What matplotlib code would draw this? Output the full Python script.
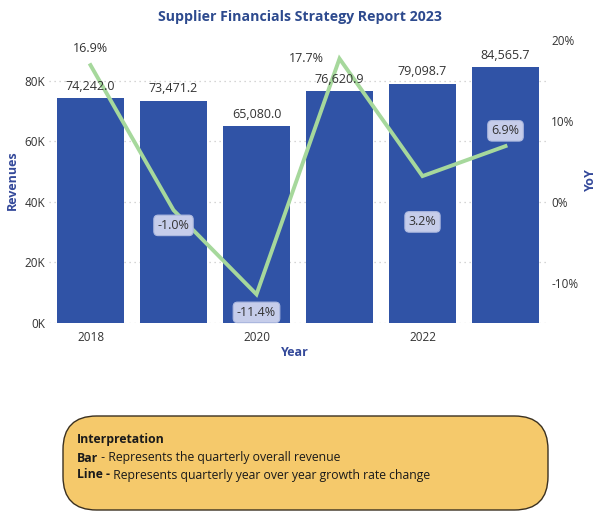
import matplotlib
matplotlib.use("Agg")
import matplotlib.pyplot as plt
from matplotlib.patches import FancyBboxPatch
from matplotlib.ticker import FuncFormatter, FixedLocator

plt.rcParams['font.family'] = ['Open Sans', 'DejaVu Sans']

years = [2018, 2019, 2020, 2021, 2022, 2023]
revenues = [74242.0, 73471.2, 65080.0, 76620.9, 79098.7, 84565.7]
yoy = [16.9, -1.0, -11.4, 17.7, 3.2, 6.9]
year_ticks = [2018, 2020, 2022]
rev_ticks = [0, 20000, 40000, 60000, 80000]
yoy_ticks = [-10, 0, 10, 20]

title_txt = "Supplier Financials Strategy Report 2023"

W, H = 610, 522
fig = plt.figure(figsize=(W / 100, H / 100), dpi=100)

def fx(px):
    return px / W

def fy(py):
    return 1 - py / H

ax_left, ax_right = 49, 547
ax_top, ax_bot = 35, 323
ax = fig.add_axes([fx(ax_left), fy(ax_bot), fx(ax_right - ax_left), (ax_bot - ax_top) / H])

bar_color = "#3053a6"
line_color = "#a6d89c"
blue_text = "#34499a"
tick_col = "#333333"

x = list(range(len(years)))
bars = ax.bar(x, revenues, width=0.81, color=bar_color, zorder=2)
ax.set_xlim(-0.5, len(years) - 0.5)
ax.set_ylim(0, 95200)
ax.yaxis.set_major_locator(FixedLocator(rev_ticks))
ax.yaxis.set_major_formatter(FuncFormatter(lambda v, p: f"{int(v/1000)}K"))
ax.set_xticks([years.index(y) for y in year_ticks])
ax.set_xticklabels([str(y) for y in year_ticks])
ax.tick_params(axis='both', length=0, labelsize=8.5, colors=tick_col)
ax.tick_params(axis='x', pad=6)
ax.tick_params(axis='y', pad=3)
ax.grid(axis='y', linestyle=(0, (1, 3)), color="#c8c8c8", linewidth=0.9, zorder=0)
for s in ax.spines.values():
    s.set_visible(False)

ax2 = ax.twinx()
ax2.set_ylim(-14.94, 20.62)
ax2.yaxis.set_major_locator(FixedLocator(yoy_ticks))
ax2.yaxis.set_major_formatter(FuncFormatter(lambda v, p: f"{int(v)}%"))
ax2.tick_params(axis='y', length=0, labelsize=8.5, colors=tick_col, pad=3)
for s in ax2.spines.values():
    s.set_visible(False)
ax2.plot(x, yoy, color=line_color, linewidth=2.8, zorder=3, solid_joinstyle='miter')

# bar value labels drawn above the line
for xi, v in zip(x, revenues):
    ax2.annotate(f"{v:,.1f}", (xi, v), xycoords=ax.transData, xytext=(0, 4),
                 textcoords='offset points', ha='center', va='bottom', fontsize=9,
                 color=tick_col, zorder=6)

# line labels: (dx, dy in points, boxed)
offsets = [(0, 12, False), (0, -11, True), (0, -13, True), (-24, 0, False), (0, -33, True), (0, 11, True)]
for xi, v, (dx, dy, boxed) in zip(x, yoy, offsets):
    kw = {}
    if boxed:
        kw['bbox'] = dict(boxstyle="round,pad=0.3,rounding_size=0.35", fc="#c6cdea", ec="#aebae0", lw=0.8)
    ax2.annotate(f"{v:.1f}%", (xi, v), xytext=(dx, dy), textcoords='offset points',
                 ha='center', va='center', fontsize=9, color=tick_col, zorder=5, **kw)

fig.text(fx(300), fy(17), title_txt, ha='center', va='center', fontsize=10.2,
         fontweight='bold', color="#2d4a8e")
fig.text(fx(12), fy(180), "Revenues", ha='center', va='center', rotation=90,
         fontsize=9, fontweight='bold', color=blue_text)
fig.text(fx(590), fy(180), "YoY", ha='center', va='center', rotation=90,
         fontsize=9, fontweight='bold', color=blue_text)
fig.text(fx(295), fy(353), "Year", ha='center', va='center',
         fontsize=9, fontweight='bold', color=blue_text)

# Interpretation box
bx0, by0, bx1, by1 = 63, 416, 548, 510
box = FancyBboxPatch((fx(bx0), fy(by1)), fx(bx1 - bx0), (by1 - by0) / H,
                     boxstyle="round,pad=0,rounding_size=0.055",
                     transform=fig.transFigure, fc="#f5c96b", ec="#3a3020", lw=1.0,
                     mutation_aspect=W / H)
fig.add_artist(box)

renderer = fig.canvas.get_renderer()
fs = 8.8
fig.text(fx(77), fy(440), "Interpretation", ha='left', va='center', fontsize=fs,
         fontweight='bold', color="#1a1a1a")
lines = [("Bar", " - Represents the quarterly overall revenue", 458),
         ("Line -", " Represents quarterly year over year growth rate change", 475)]
for b, rest, yy in lines:
    t = fig.text(fx(77), fy(yy), b, ha='left', va='center', fontsize=fs,
                 fontweight='bold', color="#1a1a1a")
    bb = t.get_window_extent(renderer=renderer)
    fig.text(bb.x1 / fig.bbox.width, fy(yy), rest, ha='left', va='center',
             fontsize=fs, color="#1a1a1a")

fig.savefig("out.png", dpi=100)
